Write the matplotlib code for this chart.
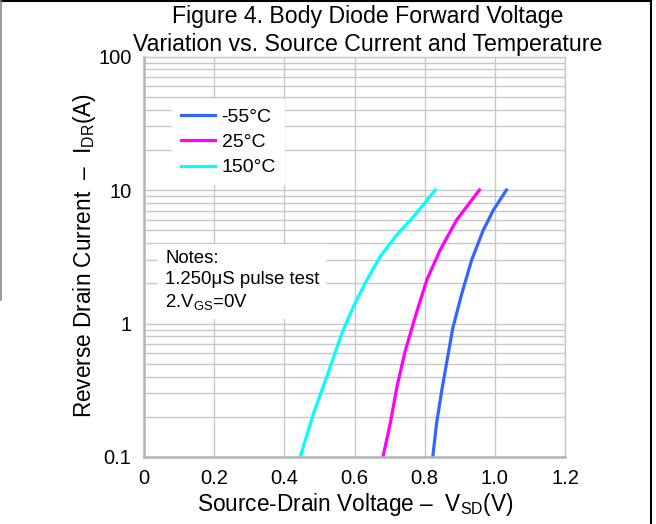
import matplotlib
matplotlib.use("Agg")
import matplotlib.pyplot as plt
from matplotlib.ticker import LogLocator, FixedLocator, NullFormatter
from matplotlib.lines import Line2D

plt.rcParams['font.family'] = ['Liberation Sans', 'DejaVu Sans']
plt.rcParams['mathtext.fontset'] = 'custom'
plt.rcParams['mathtext.rm'] = 'Liberation Sans'
plt.rcParams['mathtext.it'] = 'Liberation Sans'

# data
v_m55 = [0.823, 0.834, 0.849, 0.880, 0.906, 0.934, 0.967, 0.996, 1.033]
i_m55 = [0.1, 0.179, 0.318, 0.92, 1.68, 2.99, 5.0, 7.08, 10]

v_25 = [0.681, 0.702, 0.721, 0.744, 0.773, 0.806, 0.844, 0.891, 0.956]
i_25 = [0.1, 0.179, 0.336, 0.615, 1.12, 2.12, 3.55, 5.96, 10]

v_150 = [0.445, 0.483, 0.521, 0.564, 0.597, 0.635, 0.673, 0.720, 0.768, 0.830]
i_150 = [0.1, 0.212, 0.40, 0.845, 1.34, 2.12, 3.16, 4.6, 6.3, 10]

x_ticks = [0, 0.2, 0.4, 0.6, 0.8, 1.0, 1.2]
x_labels = ["0", "0.2", "0.4", "0.6", "0.8", "1.0", "1.2"]
y_ticks = [0.1, 1, 10, 100]
y_labels = ["0.1", "1", "10", "100"]

fig = plt.figure(figsize=(6.56, 5.24), dpi=100)
ax = fig.add_axes([144/656, 1-457/524, 421/656, 400.5/524])

ax.set_yscale('log')
ax.set_xlim(0, 1.2)
ax.set_ylim(0.1, 100)

gc = '#c8c8c8'
ax.xaxis.set_major_locator(FixedLocator(x_ticks))
ax.set_xticklabels(x_labels)
ax.yaxis.set_major_locator(FixedLocator(y_ticks))
ax.set_yticklabels(y_labels)
ax.yaxis.set_minor_locator(LogLocator(base=10, subs=range(2, 10)))
ax.yaxis.set_minor_formatter(NullFormatter())
ax.grid(True, which='major', color=gc, lw=1.0)
ax.grid(True, which='minor', axis='y', color=gc, lw=1.0)
ax.set_axisbelow(True)
ax.tick_params(which='both', length=0, labelsize=14.5)
ax.tick_params(axis='x', pad=9)
ax.tick_params(axis='y', pad=9)

for s in ['left', 'bottom']:
    ax.spines[s].set_color('#b4b4b4')
    ax.spines[s].set_linewidth(1.8)
for s in ['top', 'right']:
    ax.spines[s].set_color(gc)
    ax.spines[s].set_linewidth(1.0)

ax.plot(v_m55, i_m55, color='#3366ff', lw=2.3, label='-55°C')
ax.plot(v_25, i_25, color='#ff00ff', lw=2.3, label='25°C')
ax.plot(v_150, i_150, color='#00ffff', lw=2.3, label='150°C')

leg = ax.legend(loc='upper left', bbox_to_anchor=(0.066, 0.893), fontsize=14,
                frameon=True, fancybox=False, framealpha=1, facecolor='white',
                edgecolor='none', handlelength=1.75, handletextpad=0.36,
                labelspacing=0.4, borderpad=0.45, borderaxespad=0)

ax.text(0.05, 0.517, "Notes:\n1.250μS pulse test\n2.V$_{\\mathregular{GS}}$=0V",
        transform=ax.transAxes, fontsize=13.4, va='top', ha='left', linespacing=1.28,
        bbox=dict(facecolor='white', edgecolor='none', pad=5))

fig.text(0.561, 1-17/524, "Figure 4. Body Diode Forward Voltage", ha='center', va='center', fontsize=16.7)
fig.text(0.561, 1-45/524, "Variation vs. Source Current and Temperature", ha='center', va='center', fontsize=16.7)

fig.text(0.541, 1-505/524, "Source-Drain Voltage \u2013  V$_{\\mathregular{SD}}$(V)", ha='center', va='center', fontsize=16.3)
fig.text(85/656, 1-256/524, "Reverse Drain Current  \u2013  I$_{\\mathregular{DR}}$(A)", ha='center', va='center',
         rotation=90, fontsize=16.3)

# figure frame
fig.add_artist(Line2D([1/656, 651/656], [1-1/524, 1-1/524], color='black', lw=1.5, transform=fig.transFigure))
fig.add_artist(Line2D([651/656, 651/656], [0, 1-1/524], color='black', lw=1.5, transform=fig.transFigure))
fig.add_artist(Line2D([1/656, 1/656], [1-300/524, 1-1/524], color='#888888', lw=1.2, transform=fig.transFigure))

fig.savefig("out.png", dpi=100)
